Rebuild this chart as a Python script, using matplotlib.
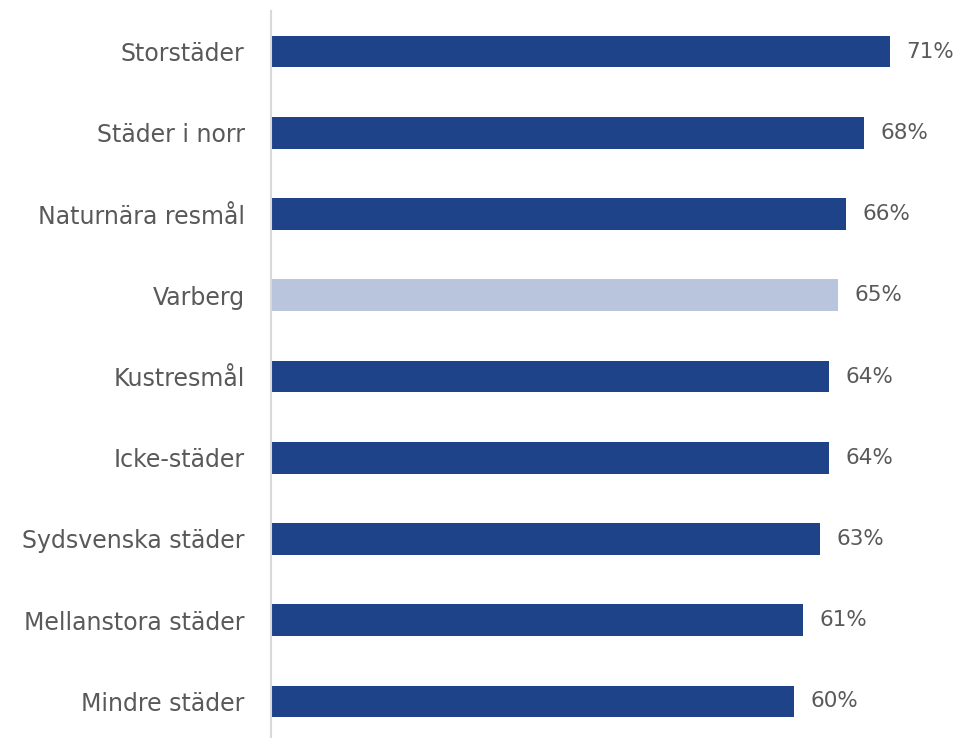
import matplotlib
matplotlib.use("Agg")
import matplotlib.pyplot as plt

# values
categories = ["Storstäder", "Städer i norr", "Naturnära resmål", "Varberg", "Kustresmål",
              "Icke-städer", "Sydsvenska städer", "Mellanstora städer", "Mindre städer"]
values = [71, 68, 66, 65, 64, 64, 63, 61, 60]
highlight = "Varberg"

dark_blue = "#1F4388"
light_blue = "#B8C5DC"
text_gray = "#595959"

plt.rcParams['font.family'] = ['DejaVu Sans']

fig = plt.figure(figsize=(9.63, 7.38), dpi=100)
ax = fig.add_axes([271 / 963, 0, (940 - 271) / 963, 727 / 738])

colors = [light_blue if c == highlight else dark_blue for c in categories]
ypos = list(range(len(categories)))
ax.barh(ypos, values, height=0.39, color=colors, left=0)

for y, v in zip(ypos, values):
    ax.text(v + 1.9, y, f"{v}%", va="center", ha="left", fontsize=15.5, color=text_gray)

ax.set_xlim(0, (940 - 271) / 8.718)
ax.set_ylim(8.45, -0.5)
ax.set_yticks(ypos)
ax.set_yticklabels(categories, fontsize=17, color=text_gray)
ax.tick_params(axis="y", length=0, pad=19)
ax.set_xticks([])

for side in ["top", "right", "bottom"]:
    ax.spines[side].set_visible(False)
ax.spines["left"].set_color("#D9D9D9")
ax.spines["left"].set_linewidth(1.5)

fig.savefig("out.png", dpi=100)
